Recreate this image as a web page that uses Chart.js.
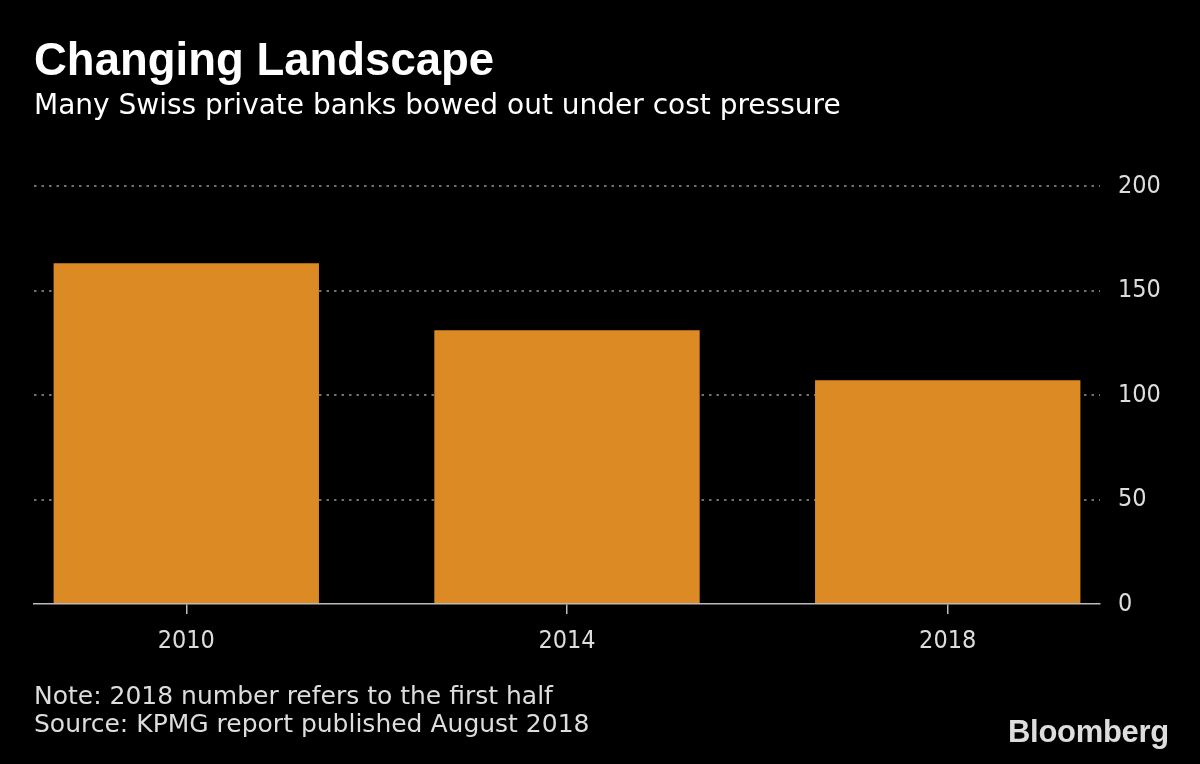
<!DOCTYPE html>
<html>
<head>
<meta charset="utf-8">
<script src="https://cdn.jsdelivr.net/npm/chart.js@4.4.1/dist/chart.umd.min.js"></script>
<style>
  body { margin: 0; background: #000; width: 1200px; height: 764px; overflow: hidden; }
  .wrap { position: relative; width: 1200px; height: 764px; }
  #chart { position: absolute; left: 0; top: 0; }
  .title { position: absolute; left: 34px; top: 37px; color: #fff; font: bold 45.5px/45px "Liberation Sans", sans-serif; white-space: nowrap; }
  .subtitle { position: absolute; left: 34px; top: 91px; color: #fff; font: 28px/28px "DejaVu Sans", sans-serif; white-space: nowrap; }
  .note { position: absolute; left: 34px; top: 682px; color: #ddd; font: 25px/28px "DejaVu Sans", sans-serif; white-space: nowrap; }
  .logo { position: absolute; left: 1008px; top: 714px; color: #ddd; font: bold 31px "Liberation Sans", sans-serif; letter-spacing: -0.3px; }
</style>
</head>
<body>
<div class="wrap">
  <canvas id="chart" width="1200" height="764"></canvas>
  <div class="title">Changing Landscape</div>
  <div class="subtitle">Many Swiss private banks bowed out under cost pressure</div>
  <div class="note">Note: 2018 number refers to the first half<br>Source: KPMG report published August 2018</div>
  <div class="logo">Bloomberg</div>
</div>
<script>
const years = ['2010', '2014', '2018'];
const banks = [163, 131, 107];
const yTicks = [0, 50, 100, 150, 200];

const tickFont = { family: 'DejaVu Sans Condensed', size: 25 };

const ctx = document.getElementById('chart').getContext('2d');
new Chart(ctx, {
    type: 'bar',
    data: {
        datasets: [{
            data: banks.map((v, i) => ({ x: i, y: v })),
            backgroundColor: '#db8a24',
            borderWidth: 0,
            categoryPercentage: 1,
            barPercentage: 0.697
        }]
    },
    options: {
        responsive: false,
        animation: false,
        layout: { padding: { left: 34, top: 186, right: 0, bottom: 0 } },
        plugins: { legend: { display: false }, tooltip: { enabled: false } },
        scales: {
            x: {
                type: 'linear',
                min: -0.4,
                max: 2.4,
                offset: false,
                afterBuildTicks: s => { s.ticks = years.map((_, i) => ({ value: i })); },
                afterFit: s => { s.height = 160; },
                border: { display: true, color: '#bbb', width: 1.5 },
                grid: { display: true, offset: false, drawOnChartArea: false, drawTicks: true, tickLength: 10, color: '#bbb', lineWidth: 1.5 },
                ticks: {
                    color: '#ddd',
                    font: tickFont,
                    padding: 12,
                    maxRotation: 0,
                    callback: v => years[v]
                }
            },
            y: {
                position: 'right',
                min: 0,
                max: 200,
                afterBuildTicks: s => { s.ticks = yTicks.map(v => ({ value: v })); },
                afterFit: s => { s.width = 100; },
                grid: {
                    drawTicks: false,
                    color: c => c.tick && c.tick.value === 0 ? 'rgba(0,0,0,0)' : '#707070',
                    lineWidth: 2
                },
                border: { display: false, dash: [2.5, 5] },
                ticks: {
                    color: '#ddd',
                    font: tickFont,
                    padding: 18
                }
            }
        }
    }
});
</script>
</body>
</html>
